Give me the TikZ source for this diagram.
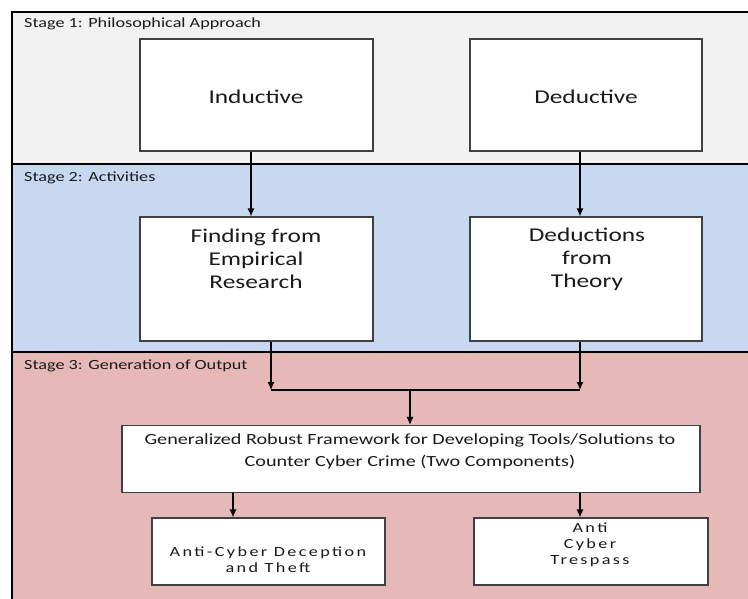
\documentclass[tikz,border=0pt]{standalone}
\usepackage{fontspec}
\setmainfont{Carlito}[FakeStretch=1.3]
\newfontfamily\spacedfont{Carlito}[FakeStretch=1.3,LetterSpace=17]
\usetikzlibrary{arrows.meta}
\definecolor{bandgray}{HTML}{F2F2F2}
\definecolor{bandblue}{HTML}{C6D9F1}
\definecolor{bandpink}{HTML}{E6B8B7}
\definecolor{boxline}{HTML}{404040}
\definecolor{txt}{HTML}{1A1A1A}
\tikzset{
  box/.style={draw=boxline, line width=1.3pt, fill=white, inner sep=0pt},
  bigtxt/.style={font=\fontsize{19.5}{23}\selectfont, text=txt, align=center, inner sep=0pt},
  stagetxt/.style={font=\fontsize{14}{16}\selectfont, text=txt, anchor=west, inner sep=0pt},
  midtxt/.style={font=\fontsize{15.5}{22}\selectfont, text=txt, align=center, inner sep=0pt},
  smalltxt/.style={font=\spacedfont\fontsize{14}{16.5}\selectfont, text=txt, align=center, inner sep=0pt},
  arr/.style={-{Latex[length=8pt,width=7pt]}, line width=1.1pt, black},
  ln/.style={line width=1.1pt, black},
  band/.style={draw=black, line width=1.3pt}
}
\begin{document}
\begin{tikzpicture}[x=1pt,y=-1pt]
\useasboundingbox (0,0) rectangle (748,599);
\clip (0,0) rectangle (748,599);
\fill[white] (0,0) rectangle (748,599);
% bands
\path[band, fill=bandgray] (12,12) rectangle (760,164);
\path[band, fill=bandblue] (12,164) rectangle (760,352);
\path[band, fill=bandpink] (12,352) rectangle (760,610);
\node[stagetxt] (s1) at (24,24) {Stage 1: Philosophical Approach};
\node[stagetxt] (s2) at (24,178) {Stage 2: Activities};
\node[stagetxt] (s3) at (24,366) {Stage 3: Generation of Output};
% boxes
\node[box, minimum width=233pt, minimum height=112pt] (ind) at (256.5,95) {};
\node[box, minimum width=232pt, minimum height=112pt] (ded) at (586,95) {};
\node[box, minimum width=233pt, minimum height=124pt] (fin) at (256.5,279) {};
\node[box, minimum width=232pt, minimum height=124pt] (dft) at (586,279) {};
\node[box, minimum width=578pt, minimum height=67pt] (fw) at (411,459) {};
\node[box, minimum width=233pt, minimum height=67pt] (acd) at (268.5,551.5) {};
\node[box, minimum width=234pt, minimum height=67pt] (act) at (591,551.5) {};
% texts
\node[bigtxt] (tind) at (256,97) {Inductive};
\node[bigtxt] (tded) at (586,97) {Deductive};
\node[bigtxt] (tfin) at (256,259) {Finding from\\Empirical\\Research};
\node[bigtxt] (tdft) at (587,259) {Deductions\\from\\Theory};
\node[midtxt] (tfw) at (410,451) {Generalized Robust Framework for Developing Tools/Solutions to\\Counter Cyber Crime (Two Components)};
\node[smalltxt] (tacd) at (268,559.5) {Anti-Cyber Deception\\and Theft};
\node[smalltxt, font=\spacedfont\fontsize{14}{16}\selectfont] (tact) at (590,545) {Anti\\Cyber\\Trespass};
% connectors
\draw[arr] (ind.south -| 251,0) -- (fin.north -| 251,0);
\draw[arr] (ded.south -| 580,0) -- (dft.north -| 580,0);
\coordinate (jl) at (271,390);
\coordinate (jr) at (580,390);
\coordinate (jm) at (410,390);
\draw[arr] (fin.south -| jl) -- (jl);
\draw[arr] (dft.south -| jr) -- (jr);
\draw[ln] (jl) -- (jr);
\draw[arr] (jm) -- (fw.north -| jm);
\draw[arr] (fw.south -| 233,0) -- (acd.north -| 233,0);
\draw[arr] (fw.south -| 580,0) -- (act.north -| 580,0);
\end{tikzpicture}
\end{document}
